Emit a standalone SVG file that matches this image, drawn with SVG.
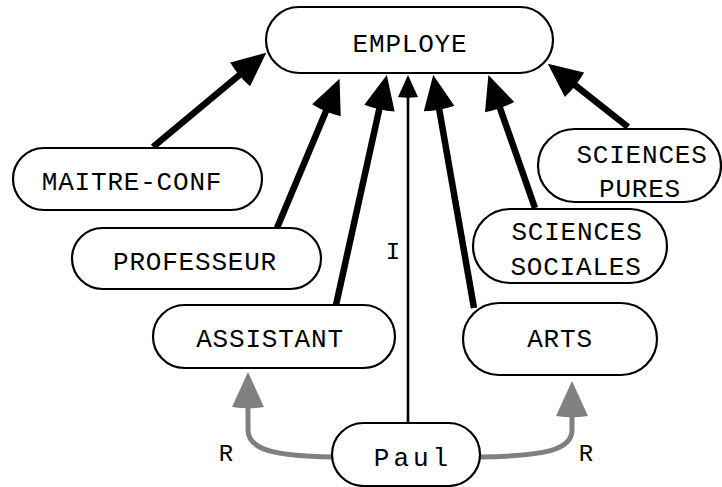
<svg xmlns="http://www.w3.org/2000/svg" width="722" height="487" viewBox="0 0 722 487">
<style>
.node rect{fill:#fff;stroke:#000;stroke-width:2.2}
.node text,.lbl{font-family:"Liberation Mono","Courier New",monospace;font-size:26px;fill:#000;text-anchor:middle;letter-spacing:0.8px}
.lbl{font-size:24px;letter-spacing:0}
.isa{fill:none;stroke:#000;stroke-width:6.5;marker-end:url(#hb)}
.inst{fill:none;stroke:#000;stroke-width:2.6;marker-end:url(#ht)}
.rel{fill:none;stroke:#808080;stroke-width:5;marker-end:url(#hg)}
</style>
<defs>
<marker id="hb" markerUnits="userSpaceOnUse" markerWidth="36" markerHeight="32" viewBox="-2 0 36 31" refX="1" refY="15.5" orient="auto" overflow="visible">
<path d="M0,0 L34,15.5 L0,31 Q-2.5,15.5 0,0 Z" fill="#000"/>
</marker>
<marker id="ht" markerUnits="userSpaceOnUse" markerWidth="24" markerHeight="20" viewBox="-1 0 24 20" refX="1" refY="10" orient="auto" overflow="visible">
<path d="M0,0 L22,10 L0,20 Q-1.5,10 0,0 Z" fill="#000"/>
</marker>
<marker id="hg" markerUnits="userSpaceOnUse" markerWidth="37" markerHeight="32" viewBox="-2 0 37 32" refX="1" refY="16" orient="auto" overflow="visible">
<path d="M0,0 L35,16 L0,32 Q-2.5,16 0,0 Z" fill="#808080"/>
</marker>
</defs>
<g id="connectors">
<path class="isa" d="M153,147 L240.9,73.8"/>
<path class="isa" d="M277,228 L326.8,109.3"/>
<path class="isa" d="M336,305 L379.7,107.2"/>
<path class="inst" d="M408,423 L408,96"/>
<path class="isa" d="M474,308 L438.9,107.5"/>
<path class="isa" d="M535,208 L499.3,106.1"/>
<path class="isa" d="M628,127 L573.7,84.1"/>
<path class="rel" d="M332,457 C275,456 248,450 248,430 L248,406"/>
<path class="rel" d="M480,457 C545,456 572,450 572,430 L572,415"/>
<text class="lbl" x="393" y="259">I</text>
<text class="lbl" x="226" y="461">R</text>
<text class="lbl" x="586" y="461">R</text>
</g>
<g id="employe" class="node"><rect x="266" y="7" width="287" height="66" rx="33"/><text x="410" y="52">EMPLOYE</text></g>
<g id="maitre-conf" class="node"><rect x="13" y="148" width="249" height="62" rx="31"/><text x="132" y="190">MAITRE-CONF</text></g>
<g id="professeur" class="node"><rect x="72" y="228" width="249" height="61" rx="30.5"/><text x="195" y="270">PROFESSEUR</text></g>
<g id="assistant" class="node"><rect x="153" y="305" width="242" height="63" rx="31.5"/><text x="270" y="347">ASSISTANT</text></g>
<g id="arts" class="node"><rect x="463" y="303" width="194" height="72" rx="36"/><text x="560" y="347">ARTS</text></g>
<g id="sciences-sociales" class="node"><rect x="473" y="209" width="194" height="74" rx="37"/><text x="577" y="240">SCIENCES</text><text x="576" y="275">SOCIALES</text></g>
<g id="sciences-pures" class="node"><rect x="538" y="129" width="183" height="73" rx="36.5"/><text x="642" y="163">SCIENCES</text><text x="640" y="197">PURES</text></g>
<g id="paul" class="node"><rect x="332" y="423" width="148" height="63" rx="31.5"/><text x="413" y="466" style="letter-spacing:4px">Paul</text></g>
</svg>
